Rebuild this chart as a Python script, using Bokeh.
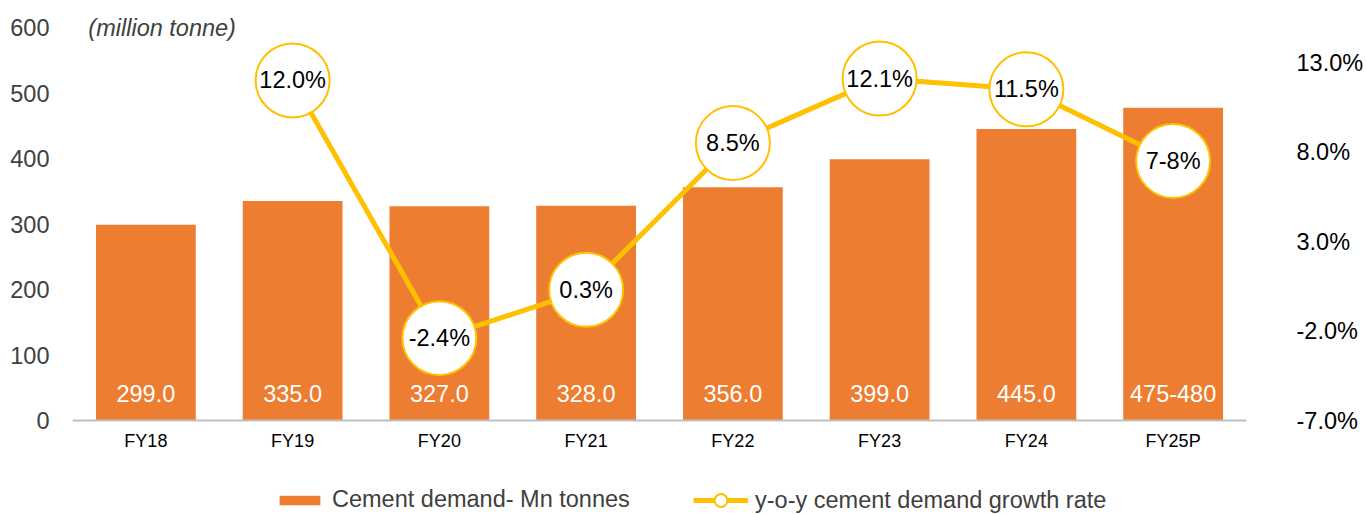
from bokeh.plotting import figure
from bokeh.models import (ColumnDataSource, Range1d, LinearAxis, FixedTicker, Label,
                          Legend, LegendItem, CustomJSTickFormatter, Span)
from bokeh.core.properties import value
from bokeh.embed import file_html
from bokeh.resources import INLINE

categories = ["FY18", "FY19", "FY20", "FY21", "FY22", "FY23", "FY24", "FY25P"]
demand = [299.0, 335.0, 327.0, 328.0, 356.0, 399.0, 445.0, 477.5]
demand_labels = ["299.0", "335.0", "327.0", "328.0", "356.0", "399.0", "445.0", "475-480"]
growth_cats = ["FY19", "FY20", "FY21", "FY22", "FY23", "FY24", "FY25P"]
growth = [12.0, -2.4, 0.3, 8.5, 12.1, 11.5, 7.5]
growth_labels = ["12.0%", "-2.4%", "0.3%", "8.5%", "12.1%", "11.5%", "7-8%"]
left_ticks = [0, 100, 200, 300, 400, 500, 600]
right_ticks = [-7.0, -2.0, 3.0, 8.0, 13.0]

FONT = "Liberation Sans"
BAR = "#ED7D31"
LINE = "#FFC000"
FS = "23.5px"

W, H = 1366, 514
# frame spans the full height; value 0 sits at y=420 px, 600 at y=27 px
PX_PER_UNIT = (420 - 27) / 600.0
PX_PER_PCT = (420 - 62) / 20.0
y_lo = -(H - 420) / PX_PER_UNIT
y_hi = 600 + 27 / PX_PER_UNIT
r_lo = -7 - (H - 420) / PX_PER_PCT
r_hi = 13 + 62 / PX_PER_PCT

p = figure(x_range=categories, y_range=Range1d(y_lo, y_hi), width=W, height=H,
           output_backend="svg", toolbar_location=None, x_axis_location=None,
           min_border_left=72, min_border_top=0, min_border_right=W - 1253,
           min_border_bottom=0)
p.x_range.range_padding = 0
p.outline_line_color = None
p.grid.visible = False
p.background_fill_color = "white"
p.border_fill_color = "white"

p.extra_y_ranges = {"pct": Range1d(r_lo, r_hi)}

bar_src = ColumnDataSource(dict(x=categories, y=demand, lab=demand_labels))
bars = p.vbar(x="x", top="y", bottom=0, width=0.68, source=bar_src, fill_color=BAR,
              line_color=None)
p.text(x="x", y=41, text="lab", source=bar_src, text_color="white",
       text_font=value(FONT), text_font_size=FS, text_align="center",
       text_baseline="middle")

# baseline + category labels
p.add_layout(Span(location=0, dimension="width", line_color="#BFBFBF", line_width=2))
p.text(x="x", y=-31, text="x", source=bar_src, text_color="black",
       text_font=value(FONT), text_font_size="18px", text_align="center",
       text_baseline="middle")

g_src = ColumnDataSource(dict(x=growth_cats, y=growth, lab=growth_labels))
ln = p.line(x="x", y="y", source=g_src, y_range_name="pct", line_color=LINE, line_width=5)
dots = p.scatter(x="x", y="y", source=g_src, y_range_name="pct", size=74, fill_color="white",
                 line_color=LINE, line_width=2)
p.text(x="x", y="y", text="lab", source=g_src, y_range_name="pct", text_color="black",
       text_font=value(FONT), text_font_size=FS, text_align="center",
       text_baseline="middle")

ya = p.yaxis[0]
ya.ticker = FixedTicker(ticks=left_ticks)
ya.axis_line_color = None
ya.major_tick_line_color = None
ya.minor_tick_line_color = None
ya.major_label_text_font = FONT
ya.major_label_text_font_size = FS
ya.major_label_text_color = "#404040"
ya.major_label_standoff = 17

ra = LinearAxis(y_range_name="pct", ticker=FixedTicker(ticks=right_ticks))
ra.formatter = CustomJSTickFormatter(code="return tick.toFixed(1) + '%';")
ra.axis_line_color = None
ra.major_tick_line_color = None
ra.minor_tick_line_color = None
ra.major_label_text_font = FONT
ra.major_label_text_font_size = FS
ra.major_label_text_color = "black"
ra.major_label_standoff = 44
p.add_layout(ra, "right")

p.add_layout(Label(x=0.108, y=600, text="(million tonne)", text_font=FONT,
                   text_font_size=FS, text_font_style="italic", text_color="#404040",
                   text_align="left", text_baseline="middle"))

common = dict(orientation="horizontal", label_standoff=7, padding=0, margin=0,
              border_line_color=None, background_fill_alpha=0, label_height=27,
              label_text_font=FONT, label_text_font_size=FS, label_text_color="#404040")
leg1 = Legend(items=[LegendItem(label="Cement demand- Mn tonnes", renderers=[bars])],
              location=(202, 1), glyph_width=51, glyph_height=12, **common)
leg2 = Legend(items=[LegendItem(label="y-o-y cement demand growth rate",
                                renderers=[ln, dots])],
              location=(621, -2), glyph_width=55, glyph_height=32, **common)
p.add_layout(leg1, "center")
p.add_layout(leg2, "center")

open("out.html", "w").write(file_html(p, INLINE))
